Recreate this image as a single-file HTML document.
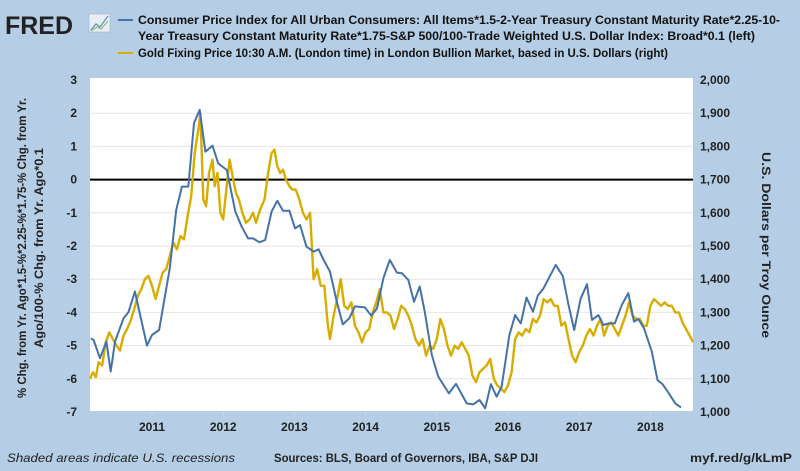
<!DOCTYPE html>
<html><head><meta charset="utf-8"><style>
html,body{margin:0;padding:0;background:#b5cee6;}
svg{display:block;font-family:"Liberation Sans",sans-serif;}
</style></head><body>
<svg id="chart" width="800" height="471" viewBox="0 0 800 471">
<rect x="0" y="0" width="800" height="471" fill="#b5cee6"/>
<g>
<text x="5" y="34" font-size="25" font-weight="bold" fill="#222" textLength="68" lengthAdjust="spacingAndGlyphs">FRED</text>
<rect x="89" y="14" width="21" height="18" fill="#e8eef4" stroke="#9ab" stroke-width="0.5"/>
<polyline points="91,30 96,24 100,27 108,16" fill="none" stroke="#5a8fc0" stroke-width="1.2"/>
<polyline points="91,31 97,27 101,29 108,21" fill="none" stroke="#8fbf6a" stroke-width="1.2"/>
</g>
<g font-weight="bold" font-size="12" fill="#111">
<g>
<line x1="118" y1="20" x2="133" y2="20" stroke="#4572a7" stroke-width="2"/>
<text x="138" y="24" textLength="642" lengthAdjust="spacingAndGlyphs">Consumer Price Index for All Urban Consumers: All Items*1.5-2-Year Treasury Constant Maturity Rate*2.25-10-</text>
<text x="138" y="40" textLength="617" lengthAdjust="spacingAndGlyphs">Year Treasury Constant Maturity Rate*1.75-S&amp;P 500/100-Trade Weighted U.S. Dollar Index: Broad*0.1 (left)</text>
</g>
<g>
<line x1="118" y1="53" x2="133" y2="53" stroke="#d6ad00" stroke-width="2"/>
<text x="138" y="57" textLength="530" lengthAdjust="spacingAndGlyphs">Gold Fixing Price 10:30 A.M. (London time) in London Bullion Market, based in U.S. Dollars (right)</text>
</g>
</g>
<rect x="90" y="78" width="603" height="333" fill="#fff"/>
<g id="grid"></g>
<g id="yleft" font-size="12" font-weight="bold" fill="#222"></g>
<g id="yright" font-size="12" font-weight="bold" fill="#222"></g>
<g id="xaxis" font-size="12" font-weight="bold" fill="#222"></g>
<g id="series"></g>
<text transform="translate(26,248) rotate(-90)" text-anchor="middle" font-size="12" font-weight="bold" fill="#222" textLength="300" lengthAdjust="spacingAndGlyphs">% Chg. from Yr. Ago*1.5-%*2.25-%*1.75-% Chg. from Yr.</text>
<text transform="translate(43,248) rotate(-90)" text-anchor="middle" font-size="12" font-weight="bold" fill="#222" textLength="200" lengthAdjust="spacingAndGlyphs">Ago/100-% Chg. from Yr. Ago*0.1</text>
<text transform="translate(762,245) rotate(90)" text-anchor="middle" font-size="12" font-weight="bold" fill="#222" textLength="186" lengthAdjust="spacingAndGlyphs">U.S. Dollars per Troy Ounce</text>
<text x="7" y="462" font-size="12" font-style="italic" fill="#222" textLength="228" lengthAdjust="spacingAndGlyphs">Shaded areas indicate U.S. recessions</text>
<text x="274" y="462" font-size="12" font-weight="bold" fill="#222" textLength="264" lengthAdjust="spacingAndGlyphs">Sources: BLS, Board of Governors, IBA, S&amp;P DJI</text>
<text x="792" y="462" text-anchor="end" font-size="12" font-weight="bold" fill="#222" textLength="102" lengthAdjust="spacingAndGlyphs">myf.red/g/kLmP</text>
</svg>
<script>
const leftTicks = [3,2,1,0,-1,-2,-3,-4,-5,-6,-7];
const rightTicks = [2000,1900,1800,1700,1600,1500,1400,1300,1200,1100,1000];
const rightTickLabels = ["2,000","1,900","1,800","1,700","1,600","1,500","1,400","1,300","1,200","1,100","1,000"];
const yearTicks = [2011,2012,2013,2014,2015,2016,2017,2018];
const cpiDates = [2010.14,2010.18,2010.27,2010.36,2010.42,2010.48,2010.60,2010.67,2010.76,2010.93,2011.0,2011.10,2011.25,2011.34,2011.42,2011.51,2011.59,2011.67,2011.75,2011.85,2011.93,2012.05,2012.17,2012.26,2012.35,2012.42,2012.51,2012.59,2012.68,2012.76,2012.84,2012.93,2013.01,2013.08,2013.17,2013.27,2013.34,2013.41,2013.50,2013.59,2013.68,2013.77,2013.85,2013.99,2014.08,2014.16,2014.25,2014.34,2014.44,2014.51,2014.60,2014.68,2014.76,2014.83,2014.93,2015.02,2015.17,2015.27,2015.42,2015.51,2015.60,2015.68,2015.76,2015.84,2015.91,2016.02,2016.10,2016.18,2016.26,2016.35,2016.42,2016.50,2016.59,2016.67,2016.77,2016.85,2016.93,2017.02,2017.11,2017.18,2017.27,2017.34,2017.41,2017.50,2017.60,2017.69,2017.77,2017.83,2017.91,2018.02,2018.10,2018.17,2018.26,2018.35,2018.43];
const cpiValues = [-4.78,-4.83,-5.38,-4.88,-5.78,-4.88,-4.18,-3.99,-3.37,-5.0,-4.68,-4.53,-2.67,-0.92,-0.21,-0.21,1.70,2.10,0.84,1.02,0.49,0.29,-0.96,-1.42,-1.77,-1.77,-1.89,-1.82,-0.96,-0.64,-0.94,-0.94,-1.47,-1.37,-2.02,-2.17,-2.10,-2.42,-2.77,-3.63,-4.36,-4.18,-3.82,-3.85,-4.1,-3.88,-2.97,-2.42,-2.80,-2.82,-3.02,-3.68,-3.22,-3.97,-5.28,-5.93,-6.44,-6.15,-6.74,-6.77,-6.64,-6.89,-6.16,-6.54,-6.24,-4.68,-4.08,-4.33,-3.55,-3.98,-3.49,-3.27,-2.90,-2.57,-2.90,-3.77,-4.53,-3.59,-3.15,-4.23,-4.08,-4.38,-4.33,-4.33,-3.77,-3.42,-4.28,-4.20,-4.48,-5.18,-6.04,-6.16,-6.44,-6.74,-6.86];
const goldDates = [2010.13,2010.17,2010.21,2010.25,2010.3,2010.35,2010.4,2010.45,2010.5,2010.55,2010.6,2010.65,2010.7,2010.75,2010.8,2010.85,2010.9,2010.95,2011.0,2011.05,2011.1,2011.15,2011.2,2011.25,2011.3,2011.35,2011.4,2011.45,2011.5,2011.55,2011.6,2011.65,2011.68,2011.72,2011.76,2011.8,2011.85,2011.88,2011.92,2011.96,2012.0,2012.04,2012.09,2012.14,2012.18,2012.22,2012.27,2012.32,2012.37,2012.42,2012.46,2012.52,2012.58,2012.63,2012.68,2012.72,2012.76,2012.8,2012.84,2012.88,2012.93,2012.97,2013.02,2013.07,2013.12,2013.17,2013.22,2013.27,2013.32,2013.37,2013.42,2013.47,2013.5,2013.55,2013.6,2013.65,2013.7,2013.75,2013.8,2013.85,2013.9,2013.95,2014.0,2014.05,2014.1,2014.15,2014.2,2014.25,2014.3,2014.35,2014.4,2014.45,2014.5,2014.55,2014.6,2014.65,2014.7,2014.75,2014.8,2014.85,2014.9,2014.95,2015.0,2015.05,2015.1,2015.15,2015.2,2015.25,2015.3,2015.35,2015.4,2015.45,2015.5,2015.55,2015.6,2015.65,2015.7,2015.75,2015.8,2015.85,2015.9,2015.95,2016.0,2016.05,2016.1,2016.15,2016.2,2016.25,2016.3,2016.35,2016.4,2016.45,2016.5,2016.55,2016.6,2016.65,2016.7,2016.75,2016.8,2016.85,2016.9,2016.95,2017.0,2017.05,2017.1,2017.15,2017.2,2017.25,2017.3,2017.35,2017.4,2017.45,2017.5,2017.55,2017.6,2017.65,2017.7,2017.75,2017.8,2017.85,2017.9,2017.95,2018.0,2018.05,2018.1,2018.15,2018.2,2018.25,2018.3,2018.35,2018.4,2018.45,2018.5,2018.55,2018.6];
const goldValues = [1100,1120,1105,1150,1140,1210,1240,1220,1200,1185,1230,1250,1275,1310,1350,1370,1400,1410,1380,1340,1380,1420,1430,1470,1510,1490,1530,1520,1590,1650,1780,1850,1900,1640,1620,1720,1760,1680,1720,1600,1580,1660,1760,1700,1660,1640,1600,1570,1580,1600,1570,1610,1640,1720,1780,1790,1740,1720,1730,1700,1680,1670,1670,1640,1600,1580,1600,1400,1430,1380,1380,1260,1220,1290,1340,1400,1320,1310,1330,1260,1240,1210,1240,1250,1300,1330,1370,1300,1300,1290,1250,1280,1320,1310,1290,1260,1220,1200,1220,1170,1200,1190,1220,1280,1250,1200,1170,1200,1190,1210,1190,1170,1110,1090,1120,1130,1140,1160,1100,1080,1070,1060,1080,1120,1220,1240,1230,1250,1240,1280,1270,1290,1340,1330,1340,1320,1320,1260,1270,1220,1170,1150,1180,1200,1230,1250,1230,1260,1280,1230,1260,1270,1250,1230,1260,1290,1330,1290,1280,1280,1260,1260,1320,1340,1330,1320,1330,1320,1320,1300,1300,1270,1250,1230,1210];

const NS="http://www.w3.org/2000/svg";
const X0=90,X1=693,Y0=80,Y1=412;
function xScale(yr){return 152+(yr-2011)*71.2;}
function yLeft(v){return Y0+(3-v)/10*(Y1-Y0);}
function yRight(v){return Y0+(2000-v)/1000*(Y1-Y0);}
function mk(tag,attrs,parent){const e=document.createElementNS(NS,tag);for(const k in attrs)e.setAttribute(k,attrs[k]);parent.appendChild(e);return e;}
const grid=document.getElementById('grid'),yl=document.getElementById('yleft'),yr=document.getElementById('yright'),xa=document.getElementById('xaxis'),ser=document.getElementById('series');
leftTicks.forEach((t,i)=>{
  const y=yLeft(t);
  if(t!==0&&t!==3&&t!==-7){const g=mk('line',{x1:X0,x2:X1,y1:y,y2:y,stroke:'#e6e6e6','stroke-width':1},grid);
  
  }
  const tx=mk('text',{x:77,y:y+4,'text-anchor':'end'},yl);tx.textContent=t;
  
  
});
rightTicks.forEach((t,i)=>{
  const tx=mk('text',{x:700,y:yRight(t)+4},yr);tx.textContent=rightTickLabels[i];
  
  
});
yearTicks.forEach(t=>{
  const x=xScale(t);
  const l=mk('line',{x1:x,x2:x,y1:411,y2:416,stroke:'#ccd9e6','stroke-width':1},xa);
  
  
  const tx=mk('text',{x:x,y:431,'text-anchor':'middle'},xa);tx.textContent=t;
  
  
});
const zl=mk('line',{x1:X0,x2:X1,y1:yLeft(0),y2:yLeft(0),stroke:'#000','stroke-width':2},grid);


const gp=mk('polyline',{points:goldDates.map((d,i)=>xScale(d).toFixed(1)+','+yRight(goldValues[i]).toFixed(1)).join(' '),fill:'none',stroke:'#d6ad00','stroke-width':2.4,'stroke-linejoin':'round'},ser);


const cp=mk('polyline',{points:cpiDates.map((d,i)=>xScale(d).toFixed(1)+','+yLeft(cpiValues[i]).toFixed(1)).join(' '),fill:'none',stroke:'#4572a7','stroke-width':2,'stroke-linejoin':'round'},ser);


</script>
</body></html>
